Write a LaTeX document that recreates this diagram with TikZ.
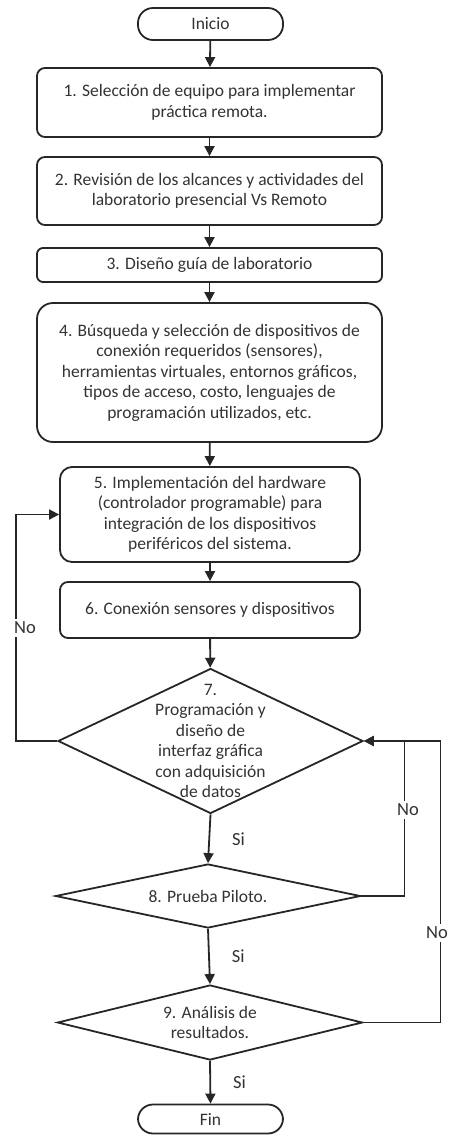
\documentclass[tikz,border=0pt]{standalone}
\usepackage{fontspec}
\setmainfont{Carlito}
\usetikzlibrary{arrows.meta,shapes.geometric}

\begin{document}
\begin{tikzpicture}[x=1pt,y=-1pt,
	font=\fontsize{17.5}{20.5}\selectfont,
	linea/.style={line width=1.8pt, draw=black!85},
	flecha/.style={linea, -{Triangle[length=10pt,width=10pt]}},
	proceso/.style={linea, rounded corners=8pt, align=center, inner sep=0pt, text=black!80},
	terminal/.style={linea, rounded corners=15pt, minimum width=145pt, inner sep=0pt, text=black!80},
	decision/.style={linea, diamond, minimum width=305pt, inner sep=0pt},
	etiqueta/.style={fill=white, text=black!80, font=\fontsize{18.5}{20}\selectfont, inner xsep=8pt, inner ysep=3pt}]
	\useasboundingbox (0,0) rectangle (453,1136);

	% Inicio and process steps
	\node [terminal, minimum height=32pt] (ini) at (210.5,24) {Inicio};
	\node [proceso, minimum width=345pt, minimum height=69pt] (p1) at (209.5,102.5) {1. Selección de equipo para implementar\\práctica remota.};
	\node [proceso, minimum width=345pt, minimum height=68pt] (p2) at (209.5,191) {2. Revisión de los alcances y actividades del\\laboratorio presencial Vs Remoto};
	\node [proceso, rounded corners=6pt, minimum width=345pt, minimum height=34pt] (p3) at (209.5,265) {3. Diseño guía de laboratorio};
	\node [proceso, rounded corners=16pt, minimum width=345pt, minimum height=139pt] (p4) at (209.5,372.5) {4. Búsqueda y selección de dispositivos de\\conexión requeridos (sensores),\\herramientas virtuales, entornos gráficos,\\tipos de acceso, costo, lenguajes de\\programación utilizados, etc.};
	\node [proceso, rounded corners=12pt, minimum width=300pt, minimum height=95pt] (p5) at (210,514.5) {5. Implementación del hardware\\(controlador programable) para\\integración de los dispositivos\\periféricos del sistema.};
	\node [proceso, minimum width=300pt, minimum height=56pt] (p6) at (210,610) {6. Conexión sensores y dispositivos};

	% Decisions
	\node [decision, minimum height=145pt, label={[align=center, text=black!80]center:{7.\\Programación y\\diseño de\\interfaz gráfica\\con adquisición\\de datos}}] (d7) at (210.5,741) {};
	\node [decision, minimum height=64pt, label={[align=center, text=black!80]center:{8. Prueba Piloto.}}] (d8) at (208,896) {};
	\node [decision, minimum height=75pt, label={[align=center, text=black!80]center:{9. Análisis de\\resultados.}}] (d9) at (210,1022.5) {};
	\node [terminal, minimum height=29pt] (fin) at (210.5,1119) {Fin};

	% Main flow
	\draw [flecha] (ini) -- (p1);
	\draw [flecha] (p1) -- (p2);
	\draw [flecha] (p2) -- (p3);
	\draw [flecha] (p3) -- (p4);
	\draw [flecha] (p4) -- (p5);
	\draw [flecha] (p5) -- (p6);
	\draw [flecha] (p6) -- (d7);
	\draw [flecha] (d7.south) -- node [etiqueta, right=14pt] (si7) {Si} (d8.north);
	\draw [flecha] (d8.south) -- node [etiqueta, right=14pt] (si8) {Si} (d9.north);
	\draw [flecha] (d9.south) -- node [etiqueta, right=14pt] (si9) {Si} (fin.north);

	% Loops back
	\draw [flecha] (d7.west) -- ++(-41,0) |- (p5.west);
	\draw [flecha] (d8.east) -| ++(43,-155) -- (d7.east);
	\draw [flecha] (d9.east) -- ++(77,0) |- (d7.east);
	\node [etiqueta] (no7) at (25,628) {No};
	\node [etiqueta] (no8) at (408,810) {No};
	\node [etiqueta] (no9) at (437,933) {No};
\end{tikzpicture}
\end{document}
